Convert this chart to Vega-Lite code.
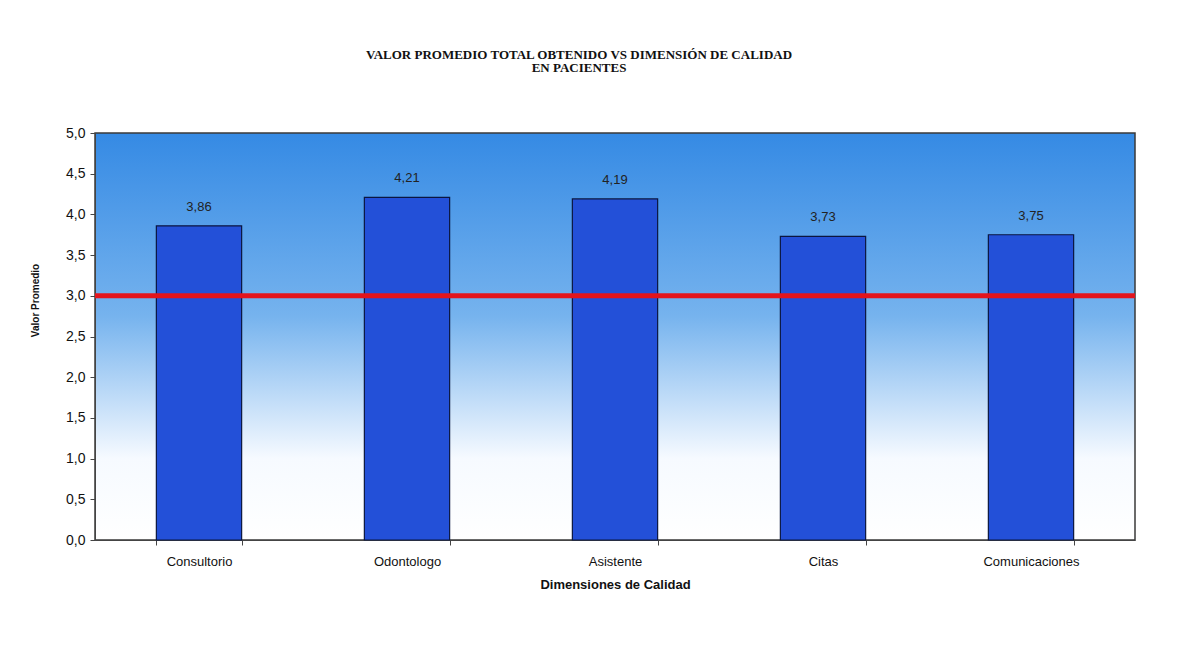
{
  "$schema": "https://vega.github.io/schema/vega-lite/v6.json",
  "width": 1040,
  "height": 407,
  "autosize": {"type": "none"},
  "padding": {"left": 95, "top": 133, "right": 47, "bottom": 120},
  "background": "#ffffff",
  "title": {
    "text": ["VALOR PROMEDIO TOTAL OBTENIDO VS DIMENSIÓN DE CALIDAD", "EN PACIENTES"],
    "font": "Liberation Serif",
    "fontSize": 13,
    "fontWeight": "bold",
    "color": "#111111",
    "anchor": "middle",
    "offset": 51,
    "dx": -36,
    "lineHeight": 13
  },
  "config": {
    "locale": {"number": {"decimal": ",", "thousands": ".", "grouping": [3], "currency": ["", " €"]}},
    "view": {
      "stroke": "#3a3a3a",
      "strokeWidth": 1.5,
      "fill": {
        "gradient": "linear",
        "x1": 0, "y1": 0, "x2": 0, "y2": 1,
        "stops": [
          {"offset": 0, "color": "#358ae4"},
          {"offset": 0.45, "color": "#76b3ee"},
          {"offset": 0.8, "color": "#f6faff"},
          {"offset": 1, "color": "#ffffff"}
        ]
      }
    },
    "axis": {"labelFont": "Liberation Sans", "titleFont": "Liberation Sans", "labelColor": "#111111", "titleColor": "#111111", "domainColor": "#444444", "tickColor": "#444444", "grid": false}
  },
  "datasets": {
    "bars": [
      {"dimension": "Consultorio", "valor": 3.86},
      {"dimension": "Odontologo", "valor": 4.21},
      {"dimension": "Asistente", "valor": 4.19},
      {"dimension": "Citas", "valor": 3.73},
      {"dimension": "Comunicaciones", "valor": 3.75}
    ],
    "umbral": [{"valor": 3}]
  },
  "layer": [
    {
      "data": {"name": "bars"},
      "mark": {"type": "bar", "color": "#2350d8", "stroke": "#0b1640", "strokeWidth": 1.2},
      "encoding": {
        "x": {
          "field": "dimension", "type": "nominal", "sort": null,
          "scale": {"paddingInner": 0.59, "paddingOuter": 0.295},
          "axis": {
            "title": "Dimensiones de Calidad",
            "titleFontSize": 13, "titleFontWeight": "bold", "titlePadding": 10,
            "labelFontSize": 13, "labelAngle": 0, "labelPadding": 10,
            "tickBand": "extent", "tickSize": 5
          }
        },
        "y": {
          "field": "valor", "type": "quantitative",
          "scale": {"domain": [0, 5]},
          "axis": {
            "title": "Valor Promedio",
            "titleFontSize": 10, "titleFontWeight": "bold",
            "titleX": -60, "titleY": 167, "titleAngle": -90,
            "titleAlign": "center", "titleBaseline": "middle",
            "values": [0, 0.5, 1, 1.5, 2, 2.5, 3, 3.5, 4, 4.5, 5],
            "format": ".1f", "labelFontSize": 14, "labelPadding": 5, "tickSize": 5
          }
        }
      }
    },
    {
      "data": {"name": "bars"},
      "mark": {"type": "text", "baseline": "bottom", "dy": -12, "font": "Liberation Sans", "fontSize": 13, "color": "#222222"},
      "encoding": {
        "x": {"field": "dimension", "type": "nominal", "sort": null},
        "y": {"field": "valor", "type": "quantitative"},
        "text": {"field": "valor", "type": "quantitative", "format": ".2f"}
      }
    },
    {
      "data": {"name": "umbral"},
      "mark": {"type": "rule", "color": "#e3141c", "strokeWidth": 5},
      "encoding": {
        "y": {"field": "valor", "type": "quantitative"}
      }
    }
  ]
}
